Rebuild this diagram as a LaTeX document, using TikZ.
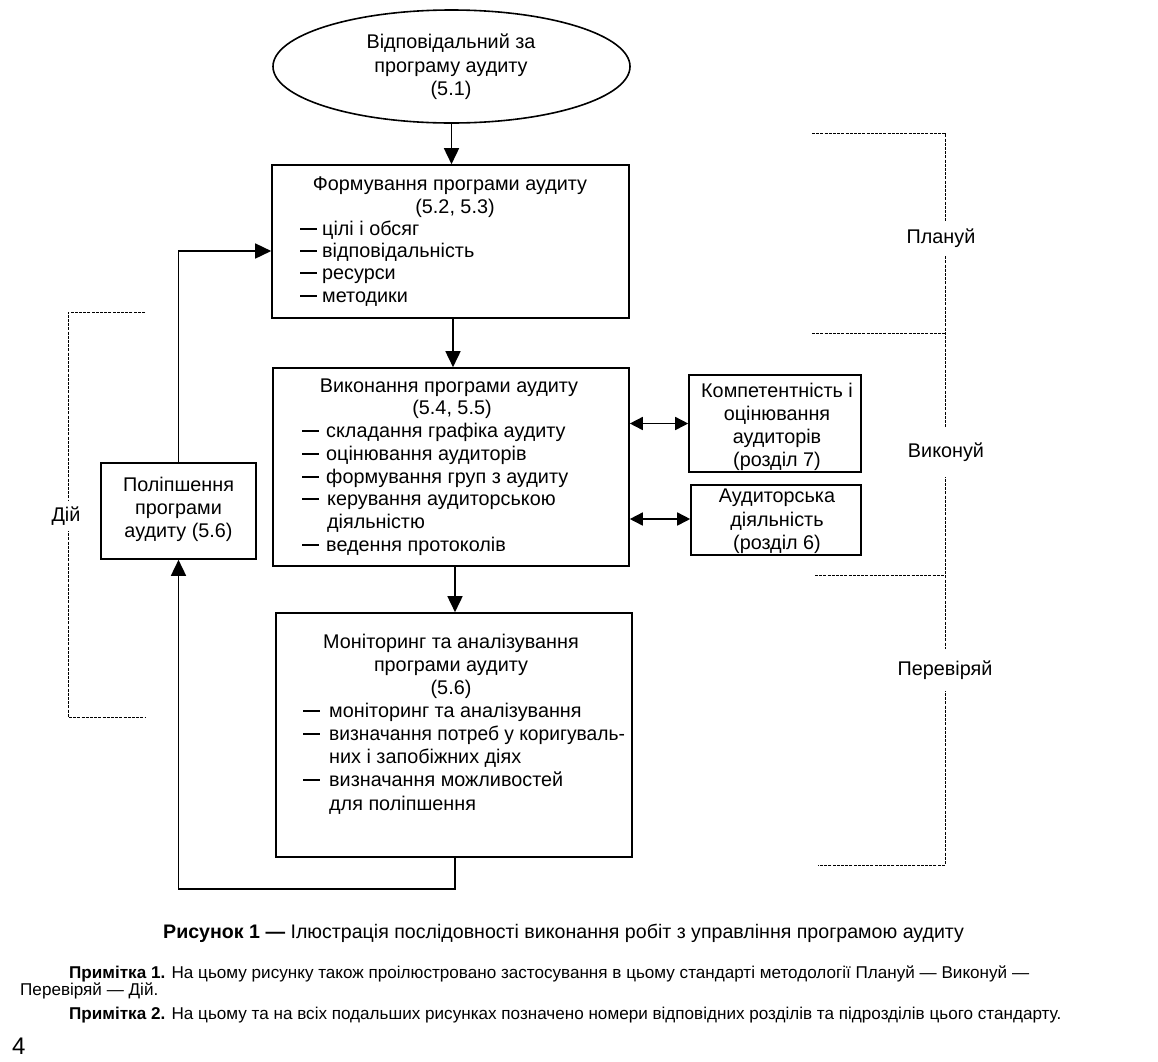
\documentclass[tikz,border=0pt]{standalone}
\usepackage{fontspec}
\usepackage{graphicx}
\setmainfont{Liberation Sans}
\usetikzlibrary{shapes.geometric,arrows.meta}
\newcommand\myfs{\fontsize{19.8}{22.5}\selectfont}
\newcommand\capfs{\fontsize{19.6}{22}\selectfont}
\newcommand\notefs{\fontsize{17.1}{19}\selectfont}
\newcommand\dsh[1]{\makebox[#1][l]{\rule[5.2pt]{17pt}{1.4pt}}}
\tikzset{
  boxn/.style={draw, line width=1.6pt, inner sep=0pt},
  txt/.style={inner sep=0pt, anchor=base, font=\myfs},
  txl/.style={inner sep=0pt, anchor=base west, font=\myfs},
  conn/.style={line width=1.6pt},
  arr/.style={conn, -{Triangle[length=16pt,width=15pt]}},
  darr/.style={line width=1.6pt, {Triangle[length=13pt,width=13pt]}-{Triangle[length=13pt,width=13pt]}},
  brk/.style={line width=0.9pt, dash pattern=on 3pt off 1.2pt},
  lbl/.style={fill=white, inner xsep=1pt, font=\myfs}
}
\begin{document}
\begin{tikzpicture}[x=1pt,y=-1pt]
\useasboundingbox (0,0) rectangle (1158,1061);
% boxes
\node[boxn, ellipse, minimum width=357pt, minimum height=113pt] (e) at (451.5,66.5) {};
\node[boxn, minimum width=357pt, minimum height=153pt] (b1) at (450.5,241.5) {};
\node[boxn, minimum width=356pt, minimum height=198pt] (b2) at (451,467) {};
\node[boxn, minimum width=356pt, minimum height=244pt] (b3) at (454,735) {};
\node[boxn, minimum width=155pt, minimum height=96pt] (poli) at (178.5,511) {};
\node[boxn, minimum width=172pt, minimum height=97pt] (comp) at (775,423.5) {};
\node[boxn, minimum width=170pt, minimum height=70pt] (aud) at (776,520) {};
% ellipse text
\node[txt] (e1) at (451,48) {Відповідальний за};
\node[txt] (e2) at (451,72) {програму аудиту};
\node[txt] (e3) at (451,95) {(5.1)};
% box1 text
\node[txt] (t11) at (450,190) {Формування програми аудиту};
\node[txt] (t12) at (455,213) {(5.2, 5.3)};
\node[txl] (t13) at (300,235) {\dsh{22pt}цілі і обсяг};
\node[txl] (t14) at (300,257) {\dsh{22pt}відповідальність};
\node[txl] (t15) at (300,279) {\dsh{22pt}ресурси};
\node[txl] (t16) at (300,302) {\dsh{22pt}методики};
% box2 text
\node[txt] (t21) at (449,392) {Виконання програми аудиту};
\node[txt] (t22) at (452,414) {(5.4, 5.5)};
\node[txl] (t23) at (302,437) {\dsh{24pt}складання графіка аудиту};
\node[txl] (t24) at (302,460) {\dsh{24pt}оцінювання аудиторів};
\node[txl] (t25) at (302,483) {\dsh{24pt}формування груп з аудиту};
\node[txl] (t26) at (302,505) {\dsh{25pt}керування аудиторською};
\node[txl] (t27) at (327,528) {діяльністю};
\node[txl] (t28) at (302,551) {\dsh{24pt}ведення протоколів};
% box3 text
\node[txt] (t31) at (451,648) {Моніторинг та аналізування};
\node[txt] (t32) at (451,671) {програми аудиту};
\node[txt] (t33) at (451,694) {(5.6)};
\node[txl] (t34) at (303,717) {\dsh{26pt}моніторинг та аналізування};
\node[txl] (t35) at (303,740) {\dsh{26pt}\scalebox{0.97}[1]{визначання потреб у коригуваль-}};
\node[txl] (t36) at (329,763) {них і запобіжних діях};
\node[txl] (t37) at (303,786) {\dsh{26pt}визначання можливостей};
\node[txl] (t38) at (329,810) {для поліпшення};
% poli text
\node[txt] (p1) at (178.5,491) {Поліпшення};
\node[txt] (p2) at (178.5,514) {програми};
\node[txt] (p3) at (178.5,537) {аудиту (5.6)};
% comp text
\node[txt] (c1) at (777,397) {Компетентність і};
\node[txt] (c2) at (777,420) {оцінювання};
\node[txt] (c3) at (777,443) {аудиторів};
\node[txt] (c4) at (777,466) {(розділ 7)};
% aud text
\node[txt] (a1) at (777,502) {Аудиторська};
\node[txt] (a2) at (777,526) {діяльність};
\node[txt] (a3) at (777,549) {(розділ 6)};
% connectors
\draw[arr] (e.south) -- (e.south |- b1.north);
\draw[arr] (b1.south -| 453,0) -- (b2.north -| 453,0);
\draw[arr] (b2.south -| 455,0) -- (b3.north -| 455,0);
\coordinate (fb1) at (178.5,889);
\coordinate (fb2) at (178.5,251);
\draw[arr] (b3.south -| 455,0) |- (fb1) -- (poli.south);
\draw[arr] (poli.north) -- (fb2) -- (b1.west |- fb2);
\draw[darr] (b2.east |- comp.west) -- (comp.west);
\draw[darr] (b2.east |- 0,519) -- (aud.west |- 0,519);
% brackets
\draw[brk] (812,133) -- (945,133) -- (945,865) -- (818,865);
\draw[brk] (812,333) -- (945,333);
\draw[brk] (815,575) -- (945,575);
\draw[brk] (145,312) -- (68,312) -- (68,717) -- (145,717);
\node[lbl, inner ysep=8pt] (pl) at (941,238) {Плануй};
\node[lbl, inner ysep=16pt] (vy) at (946,452) {Виконуй};
\node[lbl, inner ysep=12pt] (pe) at (945,670) {Перевіряй};
\node[lbl, inner ysep=6pt] (di) at (66,516) {Дій};
% caption and notes
\node[inner sep=0pt, anchor=base west] (cap) at (163,938) {\capfs\textbf{Рисунок 1 —} Ілюстрація послідовності виконання робіт з управління програмою аудиту};
\node[inner sep=0pt, anchor=base west] (n1) at (69,978) {\notefs\textbf{Примітка 1.} На цьому рисунку також проілюстровано застосування в цьому стандарті методології Плануй — Виконуй —};
\node[inner sep=0pt, anchor=base west] (n2) at (20,995) {\notefs Перевіряй — Дій.};
\node[inner sep=0pt, anchor=base west] (n3) at (69,1019) {\notefs\textbf{Примітка 2.} На цьому та на всіх подальших рисунках позначено номери відповідних розділів та підрозділів цього стандарту.};
\node[inner sep=0pt, anchor=base west] (pg) at (12,1054) {\fontsize{24}{26}\selectfont 4};
\end{tikzpicture}
\end{document}
